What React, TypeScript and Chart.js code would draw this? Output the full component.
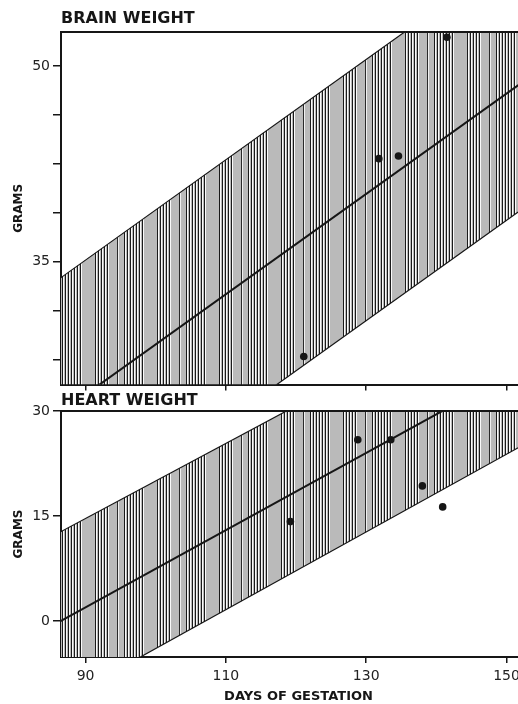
import React, { useEffect, useRef } from "react";
import { Chart, registerables } from "chart.js";

Chart.register(...registerables);

// x axis (days of gestation)
const dayMin = 86.5;
const dayMax = 154.2;
const dayTicks = [90, 110, 130, 150];
const lineDays = [86, 155];

// brain weight panel
const brainLine = [23.3, 49.8];
const brainUpper = [33.6, 60.1];
const brainLower = [13.6, 40.1];
const brainPointDays = [121.1, 131.8, 134.6, 141.5];
const brainPointGrams = [27.75, 42.9, 43.1, 52.2];
const brainTicks = [50, 46.25, 42.5, 38.75, 35, 31.25, 27.5];
const brainTickLabels = [50, 35];

// heart weight panel
const heartLine = [-0.25, 37.8];
const heartUpper = [12.5, 49.5];
const heartLower = [-11.7, 26.6];
const heartPointDays = [119.2, 128.8, 133.5, 138.0, 140.9];
const heartPointGrams = [14.2, 25.9, 25.9, 19.3, 16.3];
const heartTicks = [30, 15, 0];
const heartTickLabels = [30, 15, 0];

const FONT = "'DejaVu Sans', 'Liberation Sans', sans-serif";
const INK = "#161616";

type TPanel = {
  title: string;
  line: number[];
  upper: number[];
  lower: number[];
  pointDays: number[];
  pointGrams: number[];
  yTicks: number[];
  yLabels: number[];
  yMin: number;
  yMax: number;
  top: number;
  height: number;
  titlePad: { top: number; bottom: number };
  xHeight: number;
  showXLabels: boolean;
};

const pts = (xs: number[], ys: number[]) => xs.map((x, i) => ({ x, y: ys[i] }));

// vertical-line shading like the printed band
const makeHatch = (ctx: CanvasRenderingContext2D) => {
  const tile = document.createElement("canvas");
  tile.width = 62;
  tile.height = 4;
  const t = tile.getContext("2d")!;
  t.fillStyle = "#bababa";
  t.fillRect(0, 0, 62, 4);
  const runs = [
    [0, 19],
    [33, 48],
  ];
  runs.forEach(([a, b]) => {
    for (let x = a; x < b; x += 3) {
      t.fillStyle = "#1a1a1a";
      t.fillRect(x, 0, 1, 4);
      t.fillStyle = "#fafafa";
      t.fillRect(x + 1, 0, 1, 4);
    }
  });
  t.fillStyle = "#2a2a2a";
  t.fillRect(55, 0, 1, 4);
  t.fillStyle = "#f0f0f0";
  t.fillRect(56, 0, 1, 4);
  return ctx.createPattern(tile, "repeat");
};

const topFrame = {
  id: "topFrame",
  afterDatasetsDraw(chart: any) {
    const { ctx, chartArea: a } = chart;
    ctx.save();
    ctx.strokeStyle = INK;
    ctx.lineWidth = 2;
    ctx.beginPath();
    ctx.moveTo(a.left, a.top);
    ctx.lineTo(a.right + 5, a.top);
    ctx.stroke();
    ctx.restore();
  },
};

const Panel: React.FC<{ p: TPanel }> = ({ p }) => {
  const canvasRef = useRef<HTMLCanvasElement | null>(null);
  const chartRef = useRef<Chart | null>(null);

  useEffect(() => {
    const ctx = canvasRef.current?.getContext("2d");
    if (!ctx) return;
    if (chartRef.current) chartRef.current.destroy();
    const hatch = makeHatch(ctx);

    chartRef.current = new Chart(ctx, {
      type: "line",
      data: {
        datasets: [
          {
            data: pts(p.pointDays, p.pointGrams),
            showLine: false,
            pointRadius: 3.8,
            pointBackgroundColor: INK,
            pointBorderWidth: 0,
          },
          {
            data: pts(lineDays, p.line),
            borderColor: INK,
            borderWidth: 2,
            pointRadius: 0,
          },
          {
            data: pts(lineDays, p.upper),
            borderColor: INK,
            borderWidth: 1.2,
            pointRadius: 0,
            fill: 3,
            backgroundColor: hatch as any,
          },
          {
            data: pts(lineDays, p.lower),
            borderColor: INK,
            borderWidth: 1.2,
            pointRadius: 0,
            fill: false,
          },
        ],
      },
      options: {
        animation: false,
        responsive: false,
        layout: { padding: 0 },
        plugins: {
          legend: { display: false },
          tooltip: { enabled: false },
          filler: { drawTime: "beforeDatasetsDraw" },
          title: {
            display: true,
            text: p.title,
            align: "start",
            fullSize: false,
            color: INK,
            font: { family: FONT, size: 16, weight: "bold", lineHeight: 1.2 },
            padding: p.titlePad,
          },
        },
        scales: {
          x: {
            type: "linear",
            min: dayMin,
            max: dayMax,
            afterBuildTicks: (s: any) => {
              s.ticks = dayTicks.map((v) => ({ value: v }));
            },
            afterFit: (s: any) => {
              s.height = p.xHeight;
            },
            ticks: {
              display: p.showXLabels,
              color: "#222",
              padding: 5,
              maxRotation: 0,
              font: { family: FONT, size: 14 },
            },
            grid: {
              drawOnChartArea: false,
              tickLength: 6,
              color: INK,
              lineWidth: 1.5,
            },
            border: { color: INK, width: 2 },
            title: {
              display: p.showXLabels,
              text: "DAYS OF GESTATION",
              color: INK,
              font: { family: FONT, size: 13, weight: "bold", lineHeight: 1.2 },
              padding: { top: 0, bottom: 0 },
            },
          },
          y: {
            min: p.yMin,
            max: p.yMax,
            afterBuildTicks: (s: any) => {
              s.ticks = p.yTicks.map((v) => ({ value: v }));
            },
            afterFit: (s: any) => {
              s.width = 61;
            },
            ticks: {
              color: "#222",
              padding: 3,
              font: { family: FONT, size: 14 },
              callback: (v: any) => (p.yLabels.includes(Number(v)) ? String(v) : ""),
            },
            grid: {
              drawOnChartArea: false,
              tickLength: 8,
              color: INK,
              lineWidth: 1.5,
            },
            border: { color: INK, width: 2 },
            title: {
              display: true,
              text: "GRAMS",
              color: INK,
              font: { family: FONT, size: 12, weight: "bold", lineHeight: 1.2 },
              padding: { top: 12, bottom: 0 },
            },
          },
        },
      },
      plugins: [topFrame],
    });

    return () => {
      if (chartRef.current) {
        chartRef.current.destroy();
        chartRef.current = null;
      }
    };
  }, [p]);

  return (
    <canvas
      ref={canvasRef}
      width={540}
      height={p.height}
      style={{ position: "absolute", left: 0, top: p.top }}
    ></canvas>
  );
};

const brainPanel: TPanel = {
  title: "BRAIN WEIGHT",
  line: brainLine,
  upper: brainUpper,
  lower: brainLower,
  pointDays: brainPointDays,
  pointGrams: brainPointGrams,
  yTicks: brainTicks,
  yLabels: brainTickLabels,
  yMin: 25.6,
  yMax: 52.6,
  top: 0,
  height: 396,
  titlePad: { top: 9.4, bottom: 3.4 },
  xHeight: 11,
  showXLabels: false,
};

const heartPanel: TPanel = {
  title: "HEART WEIGHT",
  line: heartLine,
  upper: heartUpper,
  lower: heartLower,
  pointDays: heartPointDays,
  pointGrams: heartPointGrams,
  yTicks: heartTicks,
  yLabels: heartTickLabels,
  yMin: -5.14,
  yMax: 30,
  top: 380,
  height: 324,
  titlePad: { top: 11.4, bottom: 0.4 },
  xHeight: 47,
  showXLabels: true,
};

export default function App() {
  return (
    <div
      style={{
        position: "fixed",
        left: 0,
        top: 0,
        width: 518,
        height: 704,
        overflow: "hidden",
        background: "#fff",
      }}
    >
      <Panel p={brainPanel} />
      <Panel p={heartPanel} />
    </div>
  );
}
